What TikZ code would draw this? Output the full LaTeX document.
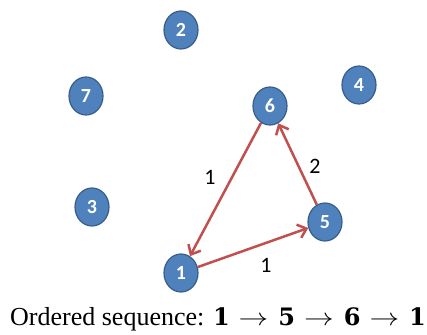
\documentclass[tikz,border=0pt]{standalone}
\usepackage{fix-cm}
\usepackage{graphicx}
\usepackage{fontspec}
\setmainfont{Liberation Serif}
\newfontfamily\calib{Carlito}
\newfontfamily\digb{DejaVu Serif}
\usetikzlibrary{shapes.geometric,arrows.meta}
\definecolor{nodeblue}{HTML}{4F81BD}
\definecolor{nodeborder}{HTML}{385D8A}
\definecolor{edgered}{HTML}{C0504D}
\newcommand{\seqd}[1]{{\digb\bfseries\fontsize{24}{24}\selectfont #1}}
\newcommand{\seqa}{\hspace{9pt}{\fontsize{22}{22}\selectfont\scalebox{1.35}[1.1]{$\rightarrow$}}\hspace{10pt}}
\tikzset{
  vert/.style={ellipse, fill=nodeblue, draw=nodeborder, line width=1.2pt,
    minimum width=34pt, minimum height=38pt, inner sep=0pt,
    text=white, font=\calib\bfseries\fontsize{20}{20}\selectfont},
  edge/.style={draw=edgered, line width=2.5pt, -{Straight Barb[length=8pt,width=14pt,line width=2.5pt]}},
  wlabel/.style={font=\calib\fontsize{22}{22}\selectfont, text=black}
}
\begin{document}
\begin{tikzpicture}[x=1pt,y=-1pt]
\useasboundingbox (0,0) rectangle (427,334);
\node[vert] (n2) at (181,30) {2};
\node[vert] (n7) at (86,96) {7};
\node[vert] (n4) at (359,85) {4};
\node[vert] (n6) at (270,106) {6};
\node[vert] (n3) at (92,207) {3};
\node[vert] (n5) at (325,222) {5};
\node[vert] (n1) at (181,273) {1};
\draw[edge] (n1) -- (n5);
\draw[edge] (n5) -- (n6);
\draw[edge] (n6) -- (n1);
\node[wlabel] (l61) at (210,177) {1};
\node[wlabel] (l56) at (315,166) {2};
\node[wlabel] (l15) at (266,265) {1};
\node[anchor=base west, inner sep=0pt, font=\fontsize{26}{26}\selectfont] (seq) at (10,325)
  {Ordered sequence: \seqd{1}\seqa\seqd{5}\seqa\seqd{6}\seqa\seqd{1}};
\end{tikzpicture}
\end{document}
